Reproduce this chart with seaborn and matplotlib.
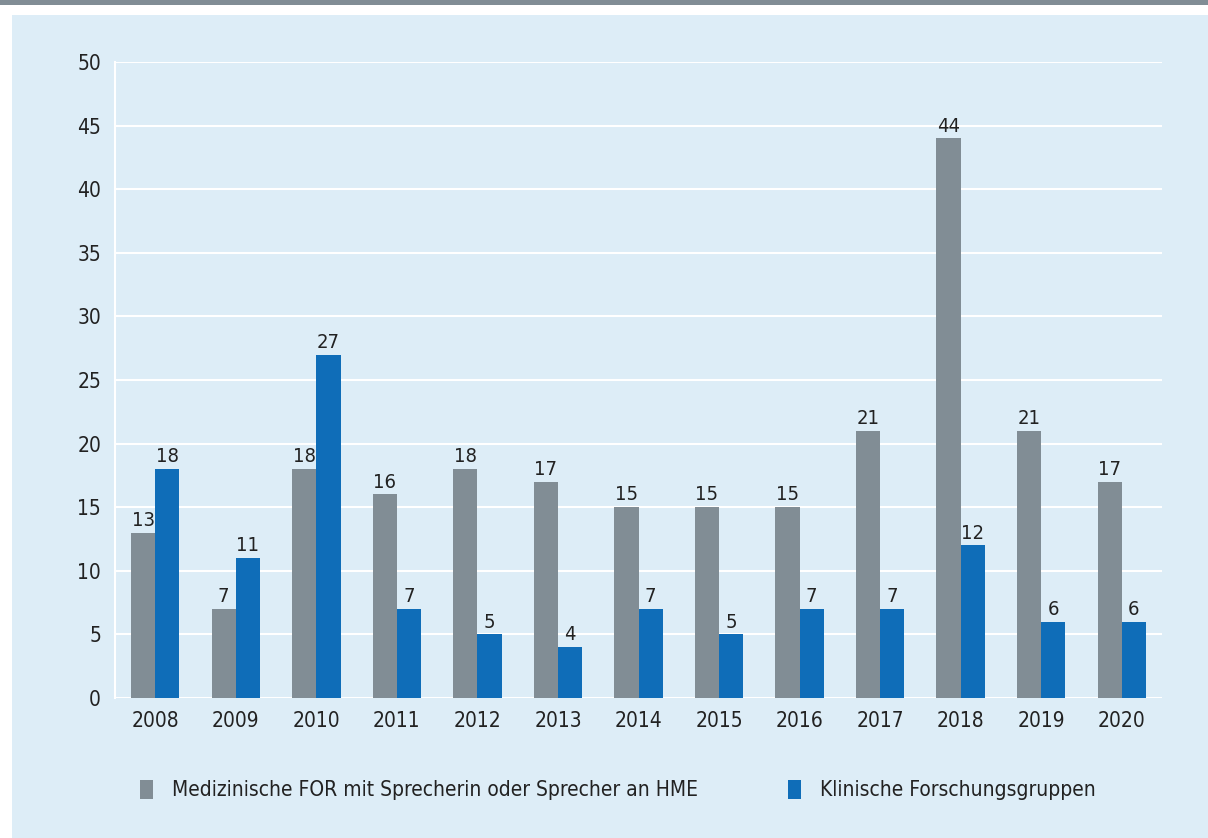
import numpy as np
import pandas as pd
import matplotlib
matplotlib.use("Agg")
import matplotlib.pyplot as plt
from matplotlib.patches import Rectangle
import seaborn as sns

# Daten
jahre = ["2008", "2009", "2010", "2011", "2012", "2013", "2014",
         "2015", "2016", "2017", "2018", "2019", "2020"]
medizinische_for = [13, 7, 18, 16, 18, 17, 15, 15, 15, 21, 44, 21, 17]
klinische_fg = [18, 11, 27, 7, 5, 4, 7, 5, 7, 7, 12, 6, 6]
serien = ["Medizinische FOR mit Sprecherin oder Sprecher an HME",
          "Klinische Forschungsgruppen"]
y_ticks = [0, 5, 10, 15, 20, 25, 30, 35, 40, 45, 50]

grau = "#818d95"
blau = "#0f6db8"
hintergrund = "#ddedf7"

df = pd.DataFrame({
    "Jahr": jahre * 2,
    "Wert": medizinische_for + klinische_fg,
    "Serie": [serien[0]] * len(jahre) + [serien[1]] * len(jahre),
})

sns.set_style("white")
plt.rcParams["font.family"] = ["Liberation Sans Narrow", "DejaVu Sans"]
plt.rcParams["font.stretch"] = "condensed"

fig = plt.figure(figsize=(12.08, 8.38), dpi=100)
fig.patch.set_facecolor("white")
W, H = 1208, 838
# grauer Balken oben und hellblaues Feld
fig.patches.append(Rectangle((0, 1 - 5 / H), 1, 5 / H, transform=fig.transFigure,
                             facecolor=grau, edgecolor="none", zorder=-2))
fig.patches.append(Rectangle((12 / W, 0), 1 - 12 / W, 1 - 15 / H, transform=fig.transFigure,
                             facecolor=hintergrund, edgecolor="none", zorder=-2))

ax = fig.add_axes([115 / W, 1 - 698 / H, (1162 - 115) / W, (698 - 62) / H])
ax.set_zorder(2)
ax.set_facecolor(hintergrund)

sns.barplot(data=df, x="Jahr", y="Wert", hue="Serie", palette=[grau, blau],
            width=0.6, saturation=1, ax=ax, legend=False, linewidth=0, edgecolor="none")

for cont in ax.containers:
    ax.bar_label(cont, fontsize=14.5, padding=2, color="#222222")

ax.set_ylim(0, 50)
ax.set_yticks(y_ticks)
ax.set_xlim(-0.5, len(jahre) - 0.5)
ax.grid(axis="y", color="white", linewidth=1.5)
ax.set_axisbelow(True)
for s in ["top", "bottom", "right"]:
    ax.spines[s].set_visible(False)
ax.spines["left"].set_color("white")
ax.spines["left"].set_linewidth(1.5)
ax.tick_params(axis="both", length=0, labelsize=15, colors="#222222", pad=9)
ax.tick_params(axis="y", pad=10)
ax.set_xlabel("")
ax.set_ylabel("")

# Legende
handles = [Rectangle((0, 0), 1, 1, facecolor=c, edgecolor="none") for c in [grau, blau]]
leg = fig.legend(handles, serien, loc="center left", bbox_to_anchor=(121 / W, 1 - 790 / H),
                 ncol=2, frameon=False, fontsize=15, handlelength=0.65, handleheight=1.05,
                 handletextpad=0.9, columnspacing=4.3, labelcolor="#222222")
leg.set_zorder(3)

fig.savefig("out.png", dpi=100, facecolor=fig.get_facecolor())
